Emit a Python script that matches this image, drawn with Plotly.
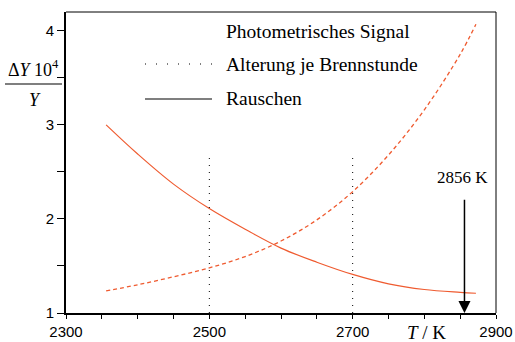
import plotly.graph_objects as go

# ---- data ----
T_vals = [2356, 2400, 2450, 2500, 2550, 2600, 2650, 2700, 2750, 2800, 2850, 2872]
signal = [1.235, 1.30, 1.385, 1.48, 1.60, 1.765, 1.99, 2.29, 2.68, 3.16, 3.75, 4.07]
noise = [3.00, 2.69, 2.37, 2.11, 1.89, 1.69, 1.54, 1.41, 1.31, 1.25, 1.22, 1.21]
aging_T = [2500, 2700]
aging_top = 2.67
mark_T = 2856
mark_top = 2.22

x_ticks = list(range(2300, 2901, 50))
x_labels = [str(v) if (v - 2300) % 200 == 0 else "" for v in x_ticks]
y_ticks = [1, 1.5, 2, 2.5, 3, 3.5, 4]
y_labels = [str(int(v)) if v == int(v) else "" for v in y_ticks]

# ---- layout geometry ----
W, H = 515, 342
L, R, TOP, B = 66, 19, 12, 29
PW, PH = W - L - R, H - TOP - B


def px(x):
    return (x - L) / PW


def py(y):
    return (H - B - y) / PH


RED = "#ef5b30"
serif = "Liberation Serif, Times New Roman, serif"
sans = "Liberation Sans, Arial, sans-serif"

fig = go.Figure()
fig.add_trace(go.Scatter(x=T_vals, y=signal, mode="lines", line=dict(color=RED, width=1.3, dash="4px,3px", shape="spline"),
                         showlegend=False, hoverinfo="skip"))
fig.add_trace(go.Scatter(x=T_vals, y=noise, mode="lines", line=dict(color=RED, width=1.2, shape="spline"),
                         showlegend=False, hoverinfo="skip"))
ax_x, ax_y = [], []
for t in aging_T:
    ax_x += [t, t, None]
    ax_y += [1, aging_top, None]
fig.add_trace(go.Scatter(x=ax_x, y=ax_y, mode="lines", line=dict(color="black", width=1, dash="1px,6px"),
                         showlegend=False, hoverinfo="skip"))

annotations = [
    # arrow
    dict(x=mark_T, y=1.0, ax=mark_T, ay=mark_top, xref="x", yref="y", axref="x", ayref="y",
         showarrow=True, arrowhead=2, arrowsize=1.6, arrowwidth=1.5, arrowcolor="black", text=""),
    dict(x=mark_T - 3, y=mark_top + 0.22, xref="x", yref="y", text="2856 K", showarrow=False,
         font=dict(family=serif, size=17, color="black"), xanchor="center", yanchor="middle"),
    # legend
    dict(x=px(224), y=py(32), xref="paper", yref="paper", text="Photometrisches Signal", showarrow=False,
         font=dict(family=serif, size=19.5, color="black"), xanchor="left", yanchor="middle"),
    dict(x=px(224), y=py(64), xref="paper", yref="paper", text="Alterung je Brennstunde", showarrow=False,
         font=dict(family=serif, size=19.5, color="black"), xanchor="left", yanchor="middle"),
    dict(x=px(224), y=py(98), xref="paper", yref="paper", text="Rauschen", showarrow=False,
         font=dict(family=serif, size=19.5, color="black"), xanchor="left", yanchor="middle"),
    # y label
    dict(x=px(33), y=py(68), xref="paper", yref="paper", text="Δ<i>Y</i> 10<sup>4</sup>", showarrow=False,
         font=dict(family=serif, size=18, color="black"), xanchor="center", yanchor="middle"),
    dict(x=px(35), y=py(100), xref="paper", yref="paper", text="<i>Y</i>", showarrow=False,
         font=dict(family=serif, size=18, color="black"), xanchor="center", yanchor="middle"),
    # x label
    dict(x=px(426), y=py(332), xref="paper", yref="paper", text="<i>T</i> / K", showarrow=False,
         font=dict(family=serif, size=19, color="black"), xanchor="center", yanchor="middle"),
]

shapes = [
    dict(type="line", xref="paper", yref="paper", x0=px(5), x1=px(62), y0=py(84), y1=py(84),
         line=dict(color="black", width=1.2)),
    dict(type="line", xref="paper", yref="paper", x0=px(145), x1=px(212), y0=py(64), y1=py(64),
         line=dict(color="black", width=1, dash="1px,10px")),
    dict(type="line", xref="paper", yref="paper", x0=px(145), x1=px(212), y0=py(99), y1=py(99),
         line=dict(color="black", width=1.2)),
    # top and right frame
    dict(type="line", xref="paper", yref="paper", x0=0, x1=1, y0=1, y1=1, line=dict(color="black", width=1)),
    dict(type="line", xref="paper", yref="paper", x0=1, x1=1, y0=0, y1=1, line=dict(color="black", width=1)),
]

fig.update_layout(
    width=W, height=H, autosize=False, margin=dict(l=L, r=R, t=TOP, b=B, pad=0, autoexpand=False),
    paper_bgcolor="white", plot_bgcolor="white",
    annotations=annotations, shapes=shapes, showlegend=False,
    xaxis=dict(range=[2300, 2900], tickvals=x_ticks, ticktext=x_labels, ticks="outside", ticklen=4,
               tickwidth=1.2, tickcolor="black", showline=True, linecolor="black", linewidth=2,
               showgrid=False, zeroline=False, automargin=False,
               tickfont=dict(family=sans, size=15, color="black")),
    yaxis=dict(range=[1, 4.2], tickvals=y_ticks, ticktext=y_labels, ticks="outside", ticklen=7,
               tickwidth=1.2, tickcolor="black", showline=True, linecolor="black", linewidth=2,
               showgrid=False, zeroline=False, automargin=False,
               tickfont=dict(family=sans, size=15, color="black")),
)

fig.write_html("out.html")
